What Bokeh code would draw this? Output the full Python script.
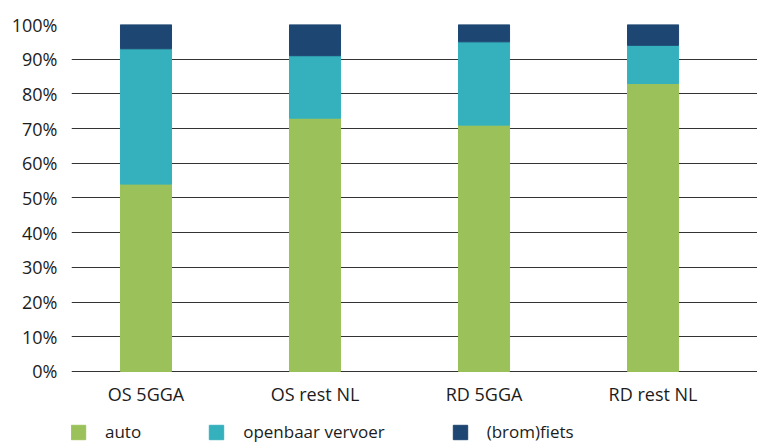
import numpy as np
from bokeh.plotting import figure
from bokeh.models import ColumnDataSource, Range1d, FixedTicker, Legend, LegendItem
from bokeh.core.properties import value
from bokeh.embed import file_html
from bokeh.resources import INLINE

# Modal split per area (percent of trips)
categories = ["OS 5GGA", "OS rest NL", "RD 5GGA", "RD rest NL"]
auto = [54, 73, 71, 83]
openbaar_vervoer = [39, 18, 24, 11]
brom_fiets = [7, 9, 5, 6]
series_labels = ["auto", "openbaar vervoer", "(brom)fiets"]
y_ticks = [0, 10, 20, 30, 40, 50, 60, 70, 80, 90, 100]

colors = ["#9bc25a", "#35b1bd", "#1e4672"]
FONT = "Open Sans"
TEXT = "#1c1c1c"

# the plot frame runs down to the bottom edge; the area below 0% holds
# the category names and the legend row
Y_BOTTOM = -21.04
CAT_LABEL_Y = -6.6

x = np.arange(len(categories))
source = ColumnDataSource(dict(x=x, auto=auto, ov=openbaar_vervoer, fiets=brom_fiets,
                               cat=categories, label_y=[CAT_LABEL_Y] * len(categories)))

p = figure(width=757, height=444, output_backend="svg", toolbar_location=None,
           x_range=Range1d(-0.4408, 3.618), y_range=Range1d(Y_BOTTOM, 100),
           min_border_left=71, min_border_right=0, min_border_top=24,
           min_border_bottom=0)
p.outline_line_color = None
p.background_fill_color = "white"
p.xaxis.visible = False

bars = p.vbar_stack(["auto", "ov", "fiets"], x="x", width=0.302,
                    color=colors, source=source)

# category names under the baseline
p.text(x="x", y="label_y", text="cat", source=source,
       text_align="center", text_baseline="middle",
       text_font=value(FONT), text_font_size="18px", text_color=TEXT)

# horizontal gridlines every 10% (the 0% line doubles as baseline)
p.xgrid.visible = False
p.ygrid.ticker = FixedTicker(ticks=y_ticks)
p.ygrid.grid_line_color = "#333333"
p.ygrid.grid_line_width = 1

# y axis: percentage labels only
p.yaxis.ticker = FixedTicker(ticks=y_ticks)
p.yaxis.major_label_overrides = {v: f"{v}%" for v in y_ticks}
p.yaxis.axis_line_color = None
p.yaxis.major_tick_line_color = None
p.yaxis.minor_tick_line_color = None
p.yaxis.major_tick_out = 0
p.yaxis.major_tick_in = 0
p.yaxis.major_label_standoff = 14
p.yaxis.major_label_text_font = FONT
p.yaxis.major_label_text_font_size = "18px"
p.yaxis.major_label_text_color = TEXT
p.yaxis.major_label_text_baseline = "alphabetic"

# legend row along the bottom
legend = Legend(items=[LegendItem(label=lab, renderers=[r])
                       for lab, r in zip(series_labels, bars)],
                location=(-2, 1), orientation="horizontal",
                glyph_width=18, glyph_height=18, label_standoff=18,
                spacing=66, padding=0, margin=0,
                border_line_color=None, background_fill_alpha=0,
                label_text_font=FONT, label_text_font_size="17px",
                label_text_color=TEXT)
p.add_layout(legend, "center")

open("out.html", "w").write(file_html(p, INLINE))
